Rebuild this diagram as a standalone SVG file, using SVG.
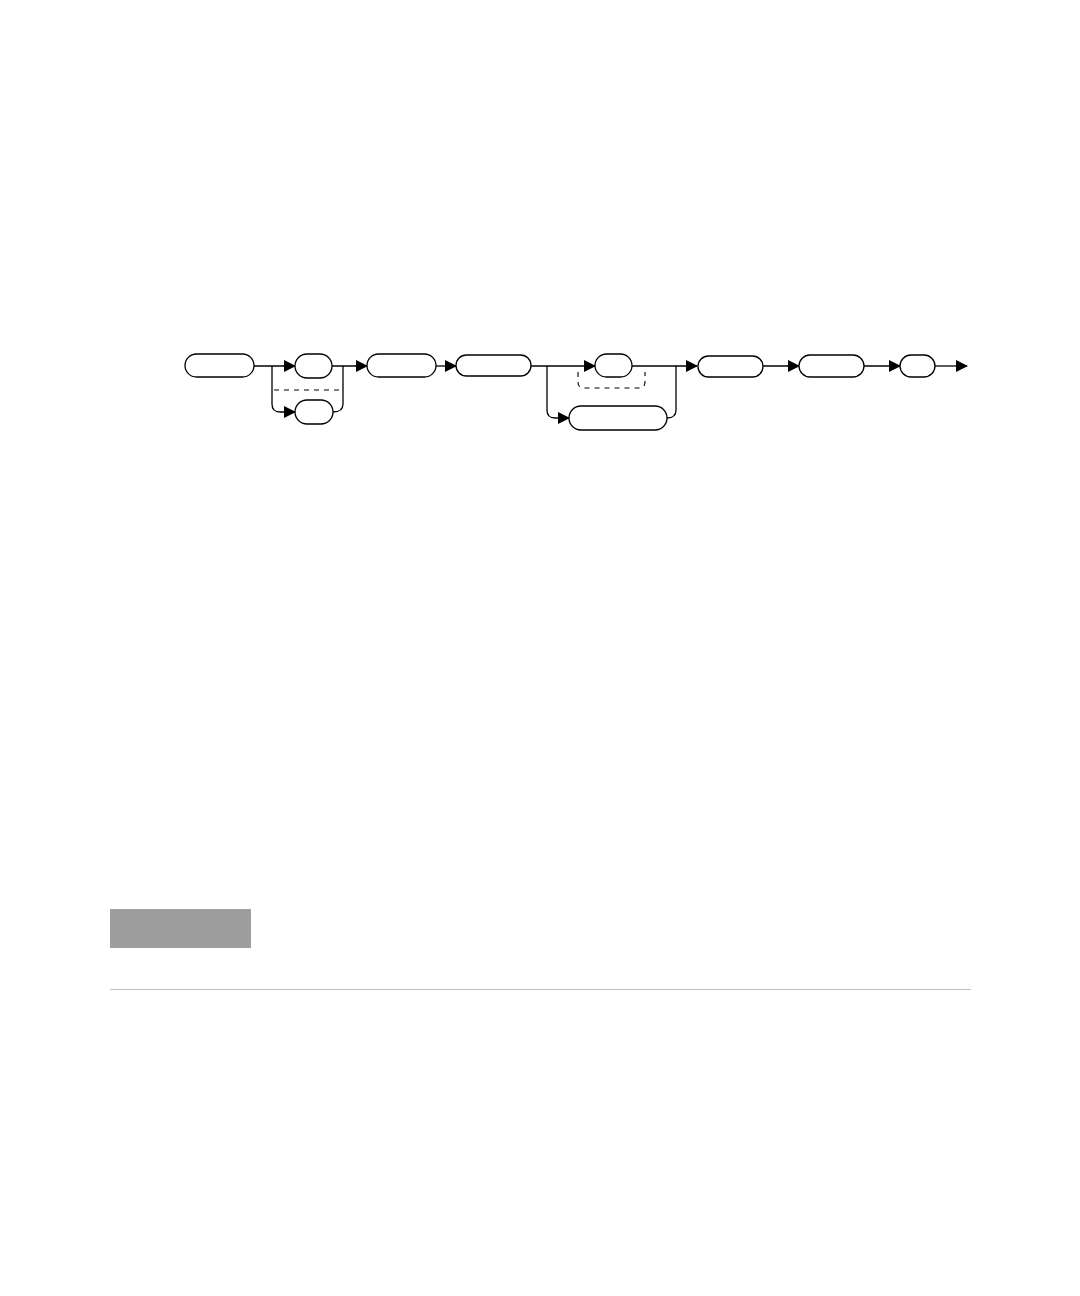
<svg xmlns="http://www.w3.org/2000/svg" width="1080" height="1296" viewBox="0 0 1080 1296">
<style>
.n{fill:#fff;stroke:#000;stroke-width:1.3}
.c{fill:none;stroke:#000;stroke-width:1.3}
.d{fill:none;stroke:#000;stroke-width:1.1;stroke-dasharray:5,5}
</style>
<defs>
<marker id="ah" markerWidth="12" markerHeight="12" refX="11" refY="6" orient="auto" markerUnits="userSpaceOnUse">
<path d="M0,0 L12,6 L0,12 Z" fill="#000"/>
</marker>
</defs>
<rect width="1080" height="1296" fill="#fff"/>
<g id="connectors">
<path class="c" d="M254,366 H295" marker-end="url(#ah)"/>
<path class="c" d="M272,366 V404 Q272,412 280,412 H295" marker-end="url(#ah)"/>
<path class="d" d="M274,390 H342"/>
<path class="c" d="M332,366 H367" marker-end="url(#ah)"/>
<path class="c" d="M333,412 Q343,412 343,404 V366"/>
<path class="c" d="M436,366 H456" marker-end="url(#ah)"/>
<path class="c" d="M531,366 H595" marker-end="url(#ah)"/>
<path class="c" d="M547,366 V410 Q547,418 555,418 H569" marker-end="url(#ah)"/>
<path class="d" d="M578,372 V382 Q578,388 584,388 H639 Q645,388 645,382 V372"/>
<path class="c" d="M632,366 H697" marker-end="url(#ah)"/>
<path class="c" d="M667,418 Q676,418 676,410 V366"/>
<path class="c" d="M763,366 H799" marker-end="url(#ah)"/>
<path class="c" d="M864,366 H900" marker-end="url(#ah)"/>
<path class="c" d="M935,366 H967" marker-end="url(#ah)"/>
</g>
<g id="nodeA"><rect class="n" x="185" y="354" width="69" height="23" rx="11.5"/></g>
<g id="nodeB1"><rect class="n" x="295" y="354" width="37" height="24" rx="12"/></g>
<g id="nodeB2"><rect class="n" x="295" y="400" width="38" height="24" rx="12"/></g>
<g id="nodeC"><rect class="n" x="367" y="354" width="69" height="23" rx="11.5"/></g>
<g id="nodeD"><rect class="n" x="456" y="355" width="75" height="21" rx="10.5"/></g>
<g id="nodeE1"><rect class="n" x="595" y="354" width="37" height="23" rx="11.5"/></g>
<g id="nodeE2"><rect class="n" x="569" y="406" width="98" height="24" rx="12"/></g>
<g id="nodeF"><rect class="n" x="698" y="356" width="65" height="21" rx="10.5"/></g>
<g id="nodeG"><rect class="n" x="799" y="355" width="65" height="22" rx="11"/></g>
<g id="nodeH"><rect class="n" x="900" y="355" width="35" height="22" rx="11"/></g>
<g id="footer">
<rect x="110" y="909" width="141" height="39" fill="#9e9e9e"/>
<line x1="110" y1="989.5" x2="971" y2="989.5" stroke="#c2c2c2" stroke-width="1.2"/>
</g>
</svg>
